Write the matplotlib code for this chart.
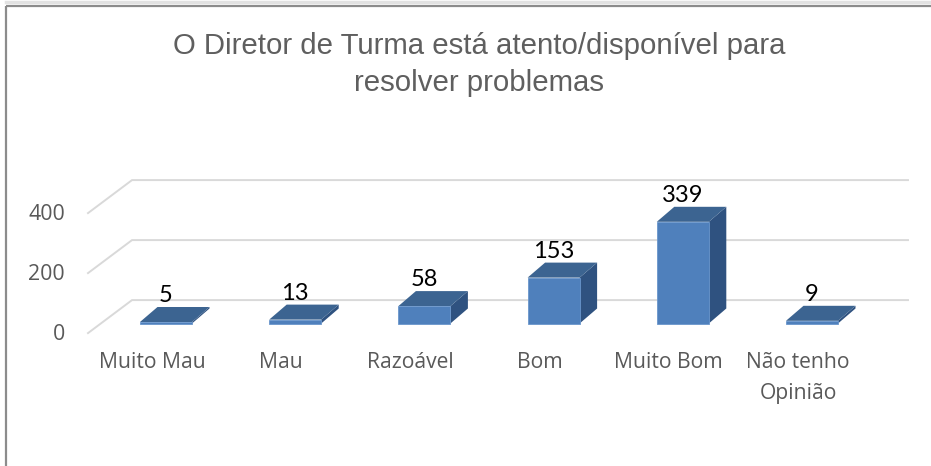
import matplotlib
matplotlib.use('Agg')
import matplotlib.pyplot as plt
from matplotlib.patches import Polygon

categorias = ['Muito Mau', 'Mau', 'Razoável', 'Bom', 'Muito Bom', 'Não tenho\nOpinião']
valores = [5, 13, 58, 153, 339, 9]
ticks = [0, 200, 400]
titulo = 'O Diretor de Turma está atento/disponível para\nresolver problemas'

# pixels per unit of the two axes
PX_X = 129.2
PX_Y = 0.3
W, H = 931, 466
X0, Y0 = 166, 323.5

fig = plt.figure(figsize=(W / 100, H / 100), dpi=100)
ax = fig.add_axes([0, 0, 1, 1])
ax.set_xlim(-X0 / PX_X, (W - X0) / PX_X)
ax.set_ylim((Y0 - H) / PX_Y, Y0 / PX_Y)
ax.axis('off')

# depth of the bars and of the floor, in data units
larg = 52 / PX_X
dx = 17.5 / PX_X
dy = 15 / PX_Y
frente_x, fundo_x, fim_x = -78 / PX_X, -34 / PX_X, 742 / PX_X
frente_y, fundo_y = -32, 78

# frame
ax.plot([-160 / PX_X, (W - X0) / PX_X], [(Y0 - 5.5) / PX_Y] * 2, color='#8c8c8c', lw=1.6,
        clip_on=False, zorder=1, solid_capstyle='butt')
ax.plot([-160 / PX_X] * 2, [(Y0 - 5.5) / PX_Y, (Y0 - 466) / PX_Y], color='#8c8c8c', lw=1.6,
        zorder=1, solid_capstyle='butt')
ax.plot([-160 / PX_X, (W - X0) / PX_X], [(Y0 - 1.5) / PX_Y] * 2, color='#e2e2e2', lw=2.5, zorder=1)

# gridlines on the back wall and the floor
for t in ticks:
    ax.plot([frente_x, fundo_x, fim_x], [t + frente_y, t + fundo_y, t + fundo_y],
            color='#d9d9d9', lw=1.4, zorder=2, solid_joinstyle='miter')
    ax.text(-101 / PX_X, t - 37, str(t), ha='right', va='center', fontsize=15.4,
            family='Open Sans', color='#595959')

for i, v in enumerate(valores):
    e, d = i - larg / 2, i + larg / 2
    ax.add_patch(Polygon([(d, 0), (d + dx, dy), (d + dx, v + dy), (d, v)], fc='#2f5280', ec='none', zorder=3))
    ax.add_patch(Polygon([(e, v), (e + dx, v + dy), (d + dx, v + dy), (d, v)], fc='#3c6491', ec='none', zorder=3))
    ax.add_patch(Polygon([(e, 0), (d, 0), (d, v), (e, v)], fc='#4f80bc', ec='#6a96cc', lw=0.6, zorder=4))
    ax.annotate(str(v), (i, v), xytext=(0, 19), textcoords='offset points', ha='center', va='center',
                fontsize=17, family='Lato', color='black', zorder=5)
    linhas = categorias[i].split('\n')
    for k, s in enumerate(linhas):
        ax.text(i - 14 / PX_X, (Y0 - 363 - 30 * k) / PX_Y, s, ha='center', va='center', fontsize=15.2,
                family='Open Sans', color='#595959')

fig.text(479 / W, 1 - 64.5 / H, titulo, ha='center', va='center', fontsize=21.2, family='Liberation Sans',
         color='#5f5f5f', linespacing=1.4)

fig.savefig('out.png', dpi=100)
